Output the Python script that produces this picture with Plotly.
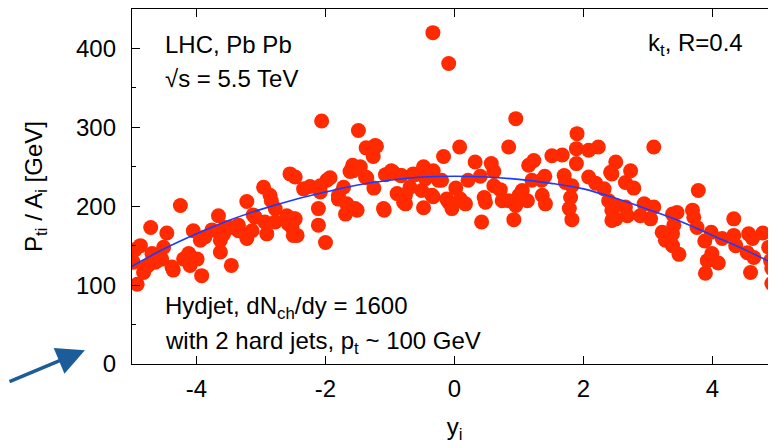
import plotly.graph_objects as go

# ---- data ----
pts_x = [-4.98, -4.95, -4.92, -4.87, -4.82, -4.80, -4.75, -4.71, -4.69, -4.64, -4.61, -4.54, -4.51, -4.46,
         -4.38, -4.36, -4.25, -4.20, -4.12, -4.10, -4.05, -3.99, -3.94, -3.92, -3.87, -3.76, -3.66, -3.63,
         -3.63, -3.58, -3.56, -3.48, -3.46, -3.35, -3.35, -3.22, -3.22, -3.14, -3.12, -3.09, -2.96, -2.94,
         -2.91, -2.86, -2.84, -2.78, -2.78, -2.60, -2.58, -2.55, -2.50, -2.50, -2.47, -2.52, -2.44, -2.47,
         -2.34, -2.24, -2.11, -2.11, -2.08, -2.08, -2.06, -2.00, -1.98, -1.93, -1.80, -1.80, -1.72, -1.69,
         -1.67, -1.62, -1.58, -1.57, -1.54, -1.51, -1.49, -1.46, -1.38, -1.37, -1.36, -1.26, -1.25, -1.23,
         -1.21, -1.10, -1.09, -1.07, -0.98, -0.95, -0.89, -0.84, -0.82, -0.79, -0.76, -0.76, -0.69, -0.64,
         -0.61, -0.51, -0.48, -0.48, -0.45, -0.35, -0.335, -0.33, -0.33, -0.25, -0.20, -0.17, -0.12, -0.09,
         -0.09, -0.04,
         0.02, 0.08, 0.09, 0.17, 0.21, 0.32, 0.40, 0.42, 0.46, 0.48, 0.57, 0.61, 0.61, 0.71, 0.74, 0.84,
         0.84, 0.92, 0.95, 0.95, 1.00, 1.05, 1.13, 1.15, 1.20, 1.23, 1.35, 1.36, 1.40, 1.41, 1.51, 1.67,
         1.70, 1.72, 1.78, 1.80, 1.82, 1.82, 1.89, 1.89, 1.90, 2.08, 2.08, 2.19, 2.23, 2.32, 2.39, 2.42,
         2.44, 2.44, 2.44, 2.50, 2.50, 2.50,
         2.65, 2.65, 2.68, 2.73, 2.78, 2.88, 2.94, 3.04, 3.09, 3.09, 3.22, 3.27, 3.38, 3.38, 3.38, 3.40,
         3.45, 3.48, 3.69, 3.71, 3.76, 3.78, 3.88, 3.89, 3.92, 3.98, 3.99, 4.09, 4.15, 4.33, 4.33, 4.36,
         4.54, 4.56, 4.59, 4.62, 4.64, 4.78, 4.87, 4.90, 4.92, 4.92, 4.98]
pts_y = [129, 145, 101, 150, 116, 121, 125, 173, 140, 129, 131, 133, 148, 166,
         123, 119, 201, 133, 140, 125, 169, 133, 157, 112, 161, 170, 188, 157,
         142, 165, 173, 173, 125, 169, 176, 206, 159, 169, 189, 186, 224, 180,
         165, 214, 207, 197, 180, 188, 178, 241, 163, 184, 237, 173, 163, 184,
         222, 225, 197, 176, 226, 218, 308, 154, 233, 236, 209, 214, 224, 190,
         203, 244, 252, 245, 197, 195, 296, 250, 237, 274, 236, 263, 223, 277,
         276, 197, 195, 240, 245, 243, 216, 239, 239, 205, 214, 203, 224, 241,
         240, 220, 250, 198, 235, 214, 420, 245, 212, 233, 233, 263, 209, 381,
         205, 197,
         223, 275, 209, 203, 233, 256, 238, 180, 211, 205, 254, 244, 226, 221, 207, 207,
         275, 183, 311, 201, 214, 220, 207, 252, 233, 258, 233, 214, 238, 203, 264, 265,
         239, 230, 197, 211, 226, 183, 273, 254, 292, 271, 237, 229, 275, 222, 207, 243,
         241, 195, 182, 256, 201, 184,
         230, 199, 188, 245, 223, 188, 203, 184, 275, 199, 167, 157, 190, 165, 150, 176,
         192, 139, 195, 186, 173, 220, 156, 115, 131, 167, 140, 128, 159, 163, 184, 150,
         141, 165, 116, 159, 135, 166, 148, 131, 121, 102, 97]

curve_x = [-5, -4.5, -4, -3.5, -3, -2.5, -2, -1.5, -1, -0.5, 0, 0.5, 1, 1.5, 2, 2.5, 3, 3.5, 4, 4.5, 5]
curve_y = [124, 146, 165, 182, 196, 208, 218, 227, 233, 237, 238, 237, 234, 229, 222, 210, 196, 181, 163, 145, 125]

x_ticks = [-4, -2, 0, 2, 4]
y_ticks = [0, 100, 200, 300, 400]

FONT = "Liberation Sans, Arial, Helvetica, sans-serif"
FS = 24

fig = go.Figure()
fig.add_trace(go.Scatter(x=pts_x, y=pts_y, mode="markers",
                         marker=dict(color="#ff2a00", size=15, line=dict(width=0)),
                         showlegend=False, hoverinfo="skip"))
fig.add_trace(go.Scatter(x=curve_x, y=curve_y, mode="lines",
                         line=dict(color="#1a3cff", width=1.6, shape="spline"),
                         showlegend=False, hoverinfo="skip"))

axis_common = dict(showline=True, linecolor="black", linewidth=1.3, mirror="ticks",
                   ticks="inside", ticklen=8, tickwidth=1.2, tickcolor="black",
                   showgrid=False, zeroline=False, automargin=False,
                   tickfont=dict(family=FONT, size=FS, color="black"))

fig.update_xaxes(range=[-5, 5], tickvals=x_ticks, ticktext=[str(v) for v in x_ticks],
                 title=dict(text="y<sub>i</sub>", font=dict(family=FONT, size=FS, color="black"), standoff=17),
                 ticklabelstandoff=3, **axis_common)
fig.update_yaxes(range=[0, 450], tickvals=y_ticks, ticktext=[str(v) for v in y_ticks],
                 minor=dict(ticks="inside", ticklen=4, tickwidth=1.2, tickcolor="black", dtick=50, tick0=0),
                 title=dict(text="P<sub>ti</sub> / A<sub>i</sub> [GeV]", font=dict(family=FONT, size=FS, color="black"), standoff=26),
                 ticklabelstandoff=10, **axis_common)

ann_font = dict(family=FONT, size=FS, color="black")
annotations = [
    dict(text="LHC, Pb Pb", x=-4.52, y=405, xanchor="left", yanchor="middle"),
    dict(text="√s = 5.5 TeV", x=-4.52, y=362, xanchor="left", yanchor="middle"),
    dict(text="k<sub>t</sub>, R=0.4", x=4.5, y=405, xanchor="right", yanchor="middle"),
    dict(text="Hydjet, dN<sub>ch</sub>/dy = 1600", x=-4.52, y=72, xanchor="left", yanchor="middle"),
    dict(text="with 2 hard jets, p<sub>t</sub> ~ 100 GeV", x=-4.52, y=27, xanchor="left", yanchor="middle"),
]
for a in annotations:
    fig.add_annotation(xref="x", yref="y", showarrow=False, font=ann_font, **a)

# blue arrow pointing toward the origin label
fig.add_annotation(xref="paper", yref="paper", x=-0.073, y=0.039, text="",
                   showarrow=True, arrowhead=2, arrowsize=1.6, arrowwidth=3.5,
                   arrowcolor="#1b5c99", ax=-95, ay=32, axref="pixel", ayref="pixel")

# page body has an 8px default margin, so the margins here are shifted by -8 px
fig.update_layout(width=776, height=440, margin=dict(l=124, r=7, t=1, b=84),
                  paper_bgcolor="white", plot_bgcolor="white",
                  font=dict(family=FONT, size=FS, color="black"))

fig.write_html("out.html")
